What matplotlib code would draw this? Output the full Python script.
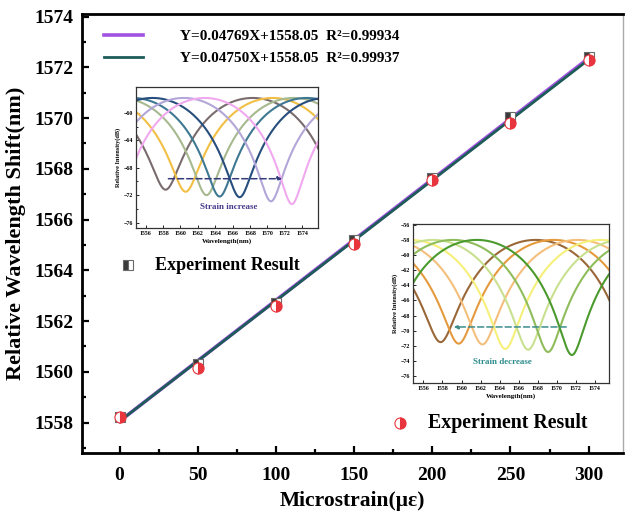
import numpy as np
import matplotlib
matplotlib.use("Agg")
import matplotlib.pyplot as plt
from matplotlib.ticker import MultipleLocator

plt.rcParams["font.family"] = ["Liberation Serif", "DejaVu Serif"]
plt.rcParams["font.weight"] = "bold"

# strain steps and measured dip wavelengths
strain = [0, 50, 100, 150, 200, 250, 300]
wl_increase = [1558.2, 1560.3, 1562.7, 1565.2, 1567.65, 1570.05, 1572.4]
wl_decrease = [1558.2, 1560.15, 1562.6, 1565.05, 1567.55, 1569.8, 1572.3]

# linear fits
fit_inc = (0.04769, 1558.05, 0.99934)
fit_dec = (0.04750, 1558.05, 0.99937)

# inset spectra: dip wavelength, dip level (dB), colour
inc_dips = [1558.3, 1560.6, 1563.0, 1564.5, 1566.8, 1570.4, 1572.8]
inc_levels = [-71.2, -71.5, -72.0, -72.2, -72.3, -72.9, -73.3]
inc_colors = ["#7a6c6e", "#f2bf45", "#a7b98f", "#3f7892", "#274e7c", "#b3a6d8", "#f0a9ef"]
inc_peak = -57.8

dec_dips = [1557.8, 1559.7, 1562.2, 1564.6, 1567.0, 1569.1, 1571.6]
dec_levels = [-71.5, -71.7, -71.8, -72.4, -72.5, -72.8, -73.2]
dec_colors = ["#9a6838", "#e59a3e", "#f4bf7c", "#f6f07a", "#c9e08f", "#8fbd5c", "#4b9a2e"]
dec_peak = -58.0

W, H = 626, 514
fig = plt.figure(figsize=(W / 100, H / 100), dpi=100)


def px_axes(x0, y0, x1, y1):
    return fig.add_axes([x0 / W, 1 - y1 / H, (x1 - x0) / W, (y1 - y0) / H])


ax = px_axes(82, 14, 623, 453)

xs = np.array([0, 300])
ax.plot(xs, fit_inc[0] * xs + fit_inc[1], color="#a052e0", lw=2.6, zorder=2,
        label=f"Y={fit_inc[0]:.5f}X+{fit_inc[1]:.2f}  R²={fit_inc[2]:.5f}")
ax.plot(xs, fit_dec[0] * xs + fit_dec[1], color="#1d5c58", lw=2.0, zorder=3,
        label=f"Y={fit_dec[0]:.5f}X+{fit_dec[1]:.2f}  R²={fit_dec[2]:.5f}")

sq_style = dict(marker="s", ls="none", ms=7, fillstyle="left", color="#3a3a3a",
                markerfacecoloralt="white", markeredgecolor="#6a6a6a", mew=0.8)
ci_style = dict(marker="o", ls="none", ms=8, fillstyle="right", color="#e8343c",
                markerfacecoloralt="white", markeredgecolor="#e8343c", mew=0.8)
ax.plot(strain, wl_increase, zorder=4, **sq_style)
ax.plot(strain, wl_decrease, zorder=4, **ci_style)

ax.set_xlim(-24, 322)
ax.set_ylim(1556.8, 1574.1)
ax.xaxis.set_major_locator(MultipleLocator(50))
ax.xaxis.set_minor_locator(MultipleLocator(25))
ax.yaxis.set_major_locator(MultipleLocator(2))
ax.yaxis.set_minor_locator(MultipleLocator(1))
ax.tick_params(which="both", direction="in", top=False, right=False, width=1.6)
ax.tick_params(which="major", length=5, labelsize=14)
ax.tick_params(axis="x", which="major", pad=10)
ax.tick_params(axis="y", which="major", pad=6)
ax.tick_params(which="minor", length=3)
for side in ["left", "bottom", "top"]:
    ax.spines[side].set_linewidth(2)
ax.spines["right"].set_color("#aaaaaa")
ax.spines["right"].set_linewidth(1)
for lab in ax.get_xticklabels() + ax.get_yticklabels():
    lab.set_fontweight("bold")

ax.set_xlabel("Microstrain(με)", fontsize=15.5, fontweight="bold", labelpad=5)
ax.set_ylabel("Relative Wavelength Shift(nm)", fontsize=16, fontweight="bold", labelpad=6)

leg = ax.legend(loc="upper left", bbox_to_anchor=(0.012, 1.0), frameon=False,
                prop={"family": "Liberation Serif", "weight": "bold", "size": 11},
                handlelength=2.6, handletextpad=2.4, labelspacing=0.55,
                borderaxespad=0.6)

# marker keys for the two data sets
fig.lines.append(plt.Line2D([128 / W], [1 - 265 / H], transform=fig.transFigure, **sq_style))
fig.text(155 / W, 1 - 265 / H, "Experiment Result", fontsize=13, fontweight="bold",
         va="center", ha="left")
fig.lines.append(plt.Line2D([400 / W], [1 - 423 / H], transform=fig.transFigure, **ci_style))
fig.text(428 / W, 1 - 423 / H, "Experiment Result", fontsize=14.3, fontweight="bold",
         va="center", ha="left")


def spectrum(wl, dip, level, peak, period):
    depth = 1 - 10 ** ((level - peak) / 10)
    t = 1 - depth * (1 + np.cos(2 * np.pi * (wl - dip) / period)) / 2
    return peak + 10 * np.log10(t)


def style_inset(a, ystep):
    a.tick_params(which="both", direction="in", labelsize=4.2, width=0.6, pad=2)
    a.tick_params(which="major", length=2)
    a.tick_params(which="minor", length=1.2)
    a.xaxis.set_major_locator(MultipleLocator(2))
    a.yaxis.set_major_locator(MultipleLocator(ystep))
    for s in a.spines.values():
        s.set_linewidth(0.9)
        s.set_color("#333333")
    a.set_xlabel("Wavelength(nm)", fontsize=5, fontweight="bold", labelpad=2)
    a.set_ylabel("Relative Intensity(dB)", fontsize=4.5, fontweight="bold", labelpad=2)


# strain increase spectra
in1 = px_axes(136, 87, 318, 228)
wl = np.linspace(1554, 1576, 600)
for d, lv, c in zip(inc_dips, inc_levels, inc_colors):
    in1.plot(wl, spectrum(wl, d, lv, inc_peak, 20), color=c, lw=1.5)
in1.set_xlim(1554.9, 1575.8)
in1.set_ylim(-76.8, -56.2)
in1.yaxis.set_minor_locator(MultipleLocator(2))
style_inset(in1, 4)
in1.annotate("", xy=(1572.0, -69.6), xytext=(1558.3, -69.6),
             arrowprops=dict(arrowstyle="-|>", ls=(0, (4, 2)), color="#353a7a",
                             lw=1.1, mutation_scale=6))
in1.text(1565.6, -73.7, "Strain increase", fontsize=6.5, fontweight="bold",
         color="#4a3a8c", ha="center", va="center")

# strain decrease spectra
in2 = px_axes(413, 224, 609, 383)
for d, lv, c in zip(dec_dips, dec_levels, dec_colors):
    in2.plot(wl, spectrum(wl, d, lv, dec_peak, 20), color=c, lw=1.5)
in2.set_xlim(1554.9, 1575.5)
in2.set_ylim(-76.9, -55.9)
style_inset(in2, 2)
in2.annotate("", xy=(1558.9, -69.5), xytext=(1571.3, -69.5),
             arrowprops=dict(arrowstyle="-|>", ls=(0, (4, 2)), color="#3c8c8c",
                             lw=1.1, mutation_scale=6))
in2.text(1564.3, -74.1, "Strain decrease", fontsize=6.5, fontweight="bold",
         color="#2e8b8b", ha="center", va="center")

fig.savefig("out.png", dpi=100)
